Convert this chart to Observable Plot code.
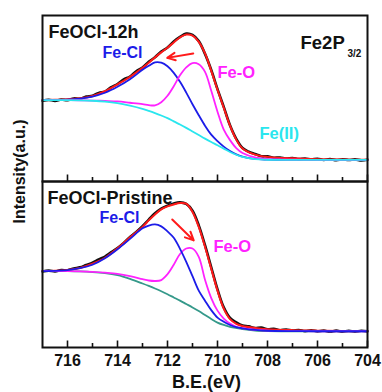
<!DOCTYPE html>
<html>
<head>
<meta charset="utf-8">
<script src="https://cdn.jsdelivr.net/npm/d3@7"></script>
<script src="https://cdn.jsdelivr.net/npm/@observablehq/plot@0.6"></script>
<style>
  html, body { margin: 0; padding: 0; background: #fff; }
  #chart { width: 382px; height: 392px; }
</style>
</head>
<body>
<div id="chart"></div>
<script>
// Fe 2p3/2 XPS spectra of FeOCl (12 h vs. pristine), with peak fitting.
// Binding energy grid (eV) for the fitted components.
const be = [717, 716.5, 716, 715.5, 715, 714.5, 714, 713.5, 713, 712.75, 712.5, 712.25, 712,
  711.75, 711.5, 711.25, 711, 710.75, 710.5, 710.25, 710, 709.75, 709.5, 709.25, 709,
  708.5, 708, 707, 706, 705, 704];

// Binding energy grid (eV) for the measured spectra.
const beRaw = [717, 716.75, 716.5, 716.25, 716, 715.75, 715.5, 715.25, 715, 714.75, 714.5,
  714.25, 714, 713.75, 713.5, 713.25, 713, 712.75, 712.5, 712.25, 712, 711.75, 711.5, 711.25,
  711, 710.75, 710.5, 710.25, 710, 709.75, 709.5, 709.25, 709, 708.75, 708.5, 708.25, 708,
  707.75, 707.5, 707.25, 707, 706.75, 706.5, 706.25, 706, 705.75, 705.5, 705.25, 705,
  704.75, 704.5, 704.25, 704];

// FeOCl-12h (intensity, a.u.)
const raw12h = [81.0, 81.9, 80.9, 82.2, 81.6, 83.3, 83.0, 85.2, 86.0, 88.9, 90.2, 94.6, 97.8,
  102.4, 105.3, 110.6, 114.2, 120.1, 124.6, 130.3, 134.5, 140.4, 145.0, 148.3, 147.0, 140.8,
  128.0, 111.8, 92.6, 74.8, 56.4, 42.8, 33.6, 29.8, 27.6, 25.4, 25.2, 23.8, 24.1, 22.9, 23.6,
  22.4, 23.0, 22.1, 22.8, 21.6, 22.5, 21.4, 22.3, 21.6, 22.2, 21.2, 21.9];
const envelope12h = [81.7, 81.9, 82.4, 83.5, 85.8, 90.5, 97.5, 105.0, 114.0, 119.0, 124.5,
  129.5, 134.2, 139.5, 144.6, 147.4, 146.4, 140.0, 128.5, 111.0, 92.0, 74.0, 56.0, 42.0, 33.0,
  27.0, 24.7, 23.2, 22.4, 22.0, 21.8];
const feCl12h = [81.7, 81.8, 82.2, 83.2, 85.2, 89.0, 95.0, 102.5, 112.0, 116.0, 119.5, 119.2,
  115.6, 109.0, 100.0, 89.2, 77.5, 66.5, 56.0, 47.0, 40.5, 35.0, 30.5, 27.2, 25.0, 22.6, 22.0,
  21.7, 21.7, 21.7, 21.7];
const feO12h = [81.7, 81.7, 81.7, 81.5, 81.2, 80.8, 80.3, 79.0, 77.6, 76.6, 76.4, 79.5, 86.0,
  95.5, 106.5, 114.5, 118.8, 117.6, 110.0, 91.0, 70.0, 52.0, 41.5, 33.5, 28.6, 24.2, 22.6,
  21.9, 21.7, 21.7, 21.7];
const feII12h = [81.7, 81.7, 81.6, 81.4, 81.0, 80.2, 78.6, 76.0, 72.8, 70.8, 68.6, 66.2, 63.6,
  60.3, 57.2, 53.8, 50.2, 46.6, 43.0, 39.6, 36.4, 33.0, 29.6, 26.8, 24.6, 22.4, 21.8, 21.7,
  21.7, 21.7, 21.7];

// FeOCl-Pristine (intensity, a.u.)
const rawPristine = [76.2, 77.1, 76.4, 77.6, 77.5, 79.3, 80.4, 82.8, 85.1, 88.4, 91.2, 95.6,
  99.8, 104.9, 110.8, 115.9, 121.8, 128.3, 134.6, 139.4, 142.3, 144.5, 145.6, 144.0, 137.2,
  122.5, 102.6, 80.4, 58.3, 40.2, 29.6, 25.1, 22.0, 21.2, 19.5, 20.1, 18.2, 18.8, 17.3, 18.1,
  17.0, 17.6, 16.4, 17.3, 16.2, 17.0, 15.8, 16.9, 15.9, 16.7, 15.9, 16.8, 16.2];
const envelopePristine = [76.7, 77.0, 77.8, 79.8, 84.0, 90.0, 99.5, 110.5, 121.0, 127.5,
  133.5, 138.5, 141.5, 143.5, 145.0, 144.2, 136.0, 121.0, 101.0, 79.0, 57.0, 39.0, 28.5, 23.8,
  21.6, 19.6, 18.4, 17.4, 16.9, 16.6, 16.5];
const feClPristine = [76.7, 76.9, 77.6, 79.5, 83.0, 89.5, 98.5, 109.0, 119.5, 122.3, 123.4,
  121.5, 116.5, 110.0, 99.0, 86.0, 71.5, 57.0, 47.0, 37.5, 30.0, 25.8, 22.6, 20.4, 19.2, 17.6,
  16.8, 16.4, 16.3, 16.3, 16.3];
const feOPristine = [76.7, 76.7, 76.6, 76.4, 75.9, 75.0, 73.8, 71.6, 68.6, 67.2, 66.7, 67.6,
  73.5, 83.0, 93.8, 99.3, 99.3, 91.0, 68.0, 49.6, 37.0, 29.0, 24.0, 20.8, 19.3, 17.8, 16.9,
  16.4, 16.3, 16.3, 16.3];
const bgPristine = [76.7, 76.7, 76.6, 76.3, 75.7, 74.6, 72.5, 68.8, 64.2, 61.8, 59.2, 56.4,
  53.4, 50.2, 47.0, 43.6, 40.2, 36.6, 32.6, 28.6, 25.0, 22.6, 20.8, 19.5, 18.4, 17.0, 16.5,
  16.3, 16.3, 16.3, 16.3];

// Peak-shift arrows (eV, a.u.)
const shifts = [
  {panel: "12h", x1: 710.97, y1: 128.4, x2: 712.01, y2: 124.0},
  {panel: "pristine", x1: 711.81, y1: 128.4, x2: 710.95, y2: 107.4}
];

const panels = ["12h", "pristine"];
const majorTicks = [716, 714, 712, 710, 708, 706, 704];
const minorTicks = [715, 713, 711, 709, 707, 705];

const FONT = "'Liberation Sans', Arial, Helvetica, sans-serif";
const RED = "#ff1a1a", BLUE = "#1c1ce8", MAGENTA = "#ff22ff", CYAN = "#2ae6ee", TEAL = "#35998a";

const facetHeight = (392 - 14 - 45) / 2;

function fit(panel, values, color, width) {
  return Plot.line(be, {x: d => d, y: values, fy: () => panel, stroke: color,
    strokeWidth: width, curve: "catmull-rom"});
}
function measured(panel, values) {
  return Plot.line(beRaw, {x: d => d, y: values, fy: () => panel, stroke: "#111",
    strokeWidth: 2.6, curve: "catmull-rom"});
}
function label(panel, text, dx, dy, color, size) {
  return Plot.text([text], {fy: () => panel, text: d => d, frameAnchor: "top-left",
    dx, dy, textAnchor: "start", lineAnchor: "middle", fill: color,
    fontSize: size, fontWeight: "bold"});
}

const chart = Plot.plot({
  width: 382,
  height: 392,
  marginLeft: 42,
  marginRight: 15,
  marginTop: 14,
  marginBottom: 45,
  style: {fontFamily: FONT, background: "white", color: "#111"},
  x: {domain: [717, 704], axis: null},
  y: {domain: [0, facetHeight], axis: null},
  fy: {domain: panels, axis: null, padding: 0},
  marks: [
    // upper panel: FeOCl-12h
    measured("12h", raw12h),
    fit("12h", envelope12h, RED, 2),
    fit("12h", feCl12h, BLUE, 1.8),
    fit("12h", feO12h, MAGENTA, 1.8),
    fit("12h", feII12h, CYAN, 1.8),
    // lower panel: FeOCl-Pristine
    measured("pristine", rawPristine),
    fit("pristine", envelopePristine, RED, 2),
    fit("pristine", bgPristine, TEAL, 1.8),
    fit("pristine", feOPristine, MAGENTA, 1.8),
    fit("pristine", feClPristine, BLUE, 1.8),
    Plot.arrow(shifts, {x1: "x1", y1: "y1", x2: "x2", y2: "y2", fy: "panel",
      stroke: RED, strokeWidth: 2, headLength: 7, headAngle: 50}),
    // inward ticks on the bottom edge of each panel
    Plot.tickX(majorTicks, {x: d => d, stroke: "#111", strokeWidth: 1.6, insetTop: facetHeight - 7}),
    Plot.tickX(minorTicks, {x: d => d, stroke: "#111", strokeWidth: 1.6, insetTop: facetHeight - 4.5}),
    Plot.frame({stroke: "#111", strokeWidth: 2}),
    Plot.axisX({ticks: majorTicks, tickSize: 0, tickPadding: 7, fontSize: 16,
      fontWeight: "bold", label: null}),
    Plot.text(["B.E.(eV)"], {fy: () => "pristine", text: d => d, frameAnchor: "bottom",
      dx: 1.5, dy: 35, lineAnchor: "middle", fontSize: 18, fontWeight: "bold"}),
    Plot.text(["Intensity(a.u.)"], {fy: () => "12h", text: d => d, frameAnchor: "bottom-left",
      dx: -23, dy: -10, rotate: -90, textAnchor: "middle", lineAnchor: "middle",
      fontSize: 16, fontWeight: "bold"}),
    // panel annotations
    label("12h", "FeOCl-12h", 6, 17, "#111", 18),
    label("12h", "Fe-Cl", 60, 37, BLUE, 16),
    label("12h", "Fe-O", 175, 57, MAGENTA, 16.5),
    label("12h", "Fe(II)", 217, 118, CYAN, 16.5),
    label("12h", "Fe2P", 258, 27.5, "#111", 18.5),
    label("12h", "3/2", 305, 38.5, "#111", 10),
    label("pristine", "FeOCl-Pristine", 5, 16.3, "#111", 18),
    label("pristine", "Fe-Cl", 57, 36.3, BLUE, 16),
    label("pristine", "Fe-O", 171, 65.3, MAGENTA, 16.5)
  ]
});

document.getElementById("chart").append(chart);
</script>
</body>
</html>
